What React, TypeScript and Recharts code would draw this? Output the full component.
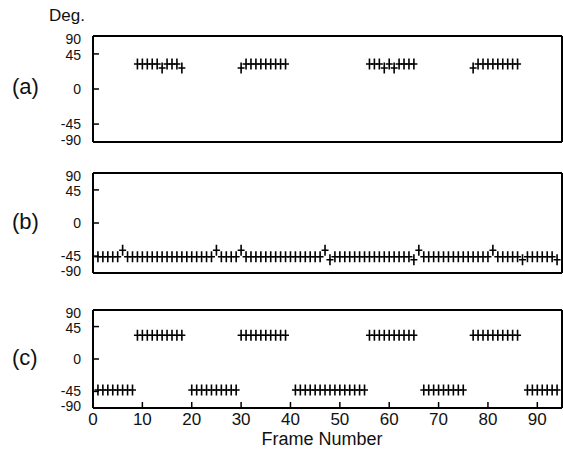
import React from "react";
import { ScatterChart, Scatter, XAxis, YAxis } from "recharts";

// frame numbers / angles (deg)
const xTicks = [0, 10, 20, 30, 40, 50, 60, 70, 80, 90];
const yTickValues = [-68, -45, 0, 45, 68];
const yTickLabels = ["-90", "-45", "0", "45", "90"];
const innerYTicks = [-45, 0, 45];

const aFrames = [
  9, 10, 11, 12, 13, 14, 15, 16, 17, 18,
  30, 31, 32, 33, 34, 35, 36, 37, 38, 39,
  56, 57, 58, 59, 60, 61, 62, 63, 64, 65,
  77, 78, 79, 80, 81, 82, 83, 84, 85, 86,
];
const aAngles = [
  32, 32, 32, 32, 32, 27, 32, 32, 32, 27,
  27, 32, 32, 32, 32, 32, 32, 32, 32, 32,
  32, 32, 32, 27, 32, 27, 32, 32, 32, 32,
  27, 32, 32, 32, 32, 32, 32, 32, 32, 32,
];

const bStartFrame = 1;
const bAngles = [
  -46, -46, -46, -46, -46, -37, -46, -46, -46, -46,
  -46, -46, -46, -46, -46, -46, -46, -46, -46, -46,
  -46, -46, -46, -46, -37, -46, -46, -46, -46, -37,
  -46, -46, -46, -46, -46, -46, -46, -46, -46, -46,
  -46, -46, -46, -46, -46, -46, -37, -50, -46, -46,
  -46, -46, -46, -46, -46, -46, -46, -46, -46, -46,
  -46, -46, -46, -46, -50, -37, -46, -46, -46, -46,
  -46, -46, -46, -46, -46, -46, -46, -46, -46, -46,
  -37, -46, -46, -46, -46, -46, -50, -46, -46, -46,
  -46, -46, -46, -50,
];

const cFrames = [
  1, 2, 3, 4, 5, 6, 7, 8,
  9, 10, 11, 12, 13, 14, 15, 16, 17, 18,
  20, 21, 22, 23, 24, 25, 26, 27, 28, 29,
  30, 31, 32, 33, 34, 35, 36, 37, 38, 39,
  41, 42, 43, 44, 45, 46, 47, 48, 49, 50, 51, 52, 53, 54, 55,
  56, 57, 58, 59, 60, 61, 62, 63, 64, 65,
  67, 68, 69, 70, 71, 72, 73, 74, 75,
  77, 78, 79, 80, 81, 82, 83, 84, 85, 86,
  88, 89, 90, 91, 92, 93, 94,
];
const cAngles = [
  -43, -43, -43, -43, -43, -43, -43, -43,
  33, 33, 33, 33, 33, 33, 33, 33, 33, 33,
  -43, -43, -43, -43, -43, -43, -43, -43, -43, -43,
  33, 33, 33, 33, 33, 33, 33, 33, 33, 33,
  -43, -43, -43, -43, -43, -43, -43, -43, -43, -43, -43, -43, -43, -43, -43,
  33, 33, 33, 33, 33, 33, 33, 33, 33, 33,
  -43, -43, -43, -43, -43, -43, -43, -43, -43,
  33, 33, 33, 33, 33, 33, 33, 33, 33, 33,
  -43, -43, -43, -43, -43, -43, -43,
];

const dataA = aFrames.map((f, i) => ({ frame: f, angle: aAngles[i] }));
const dataB = bAngles.map((a, i) => ({ frame: bStartFrame + i, angle: a }));
const dataC = cFrames.map((f, i) => ({ frame: f, angle: cAngles[i] }));

const FONT = "'Liberation Sans', Arial, Helvetica, sans-serif";
const INK = "#111";

const Cross = (props: any) => {
  const { cx, cy } = props;
  if (cx == null || cy == null) return null;
  return (
    <path
      d={`M${cx - 3.5},${cy}H${cx + 3.5}M${cx},${cy - 5.5}V${cy + 5.5}`}
      stroke="#000"
      strokeWidth={1.6}
      fill="none"
    />
  );
};

const Nothing = () => null;

// labels squeezed like the scan: 90/-90 sit just inside the frame
const labelShift: Record<string, number> = { "90": 2.5, "45": 1, "0": 0, "-45": 0, "-90": -2 };

const YTick = (props: any) => {
  const { x, y, payload } = props;
  const label = yTickLabels[yTickValues.indexOf(payload.value)];
  return (
    <text
      x={x}
      y={y + labelShift[label]}
      dy="0.36em"
      textAnchor="end"
      fontSize={14}
      fill={INK}
      fontFamily={FONT}
    >
      {label}
    </text>
  );
};

const axisLine = { stroke: "#000", strokeWidth: 2 };
const tickLine = { stroke: "#000", strokeWidth: 1.5 };

interface PanelProps {
  data: { frame: number; angle: number }[];
  top: number;
  height: number;
  plotTop: number;
  plotBottom: number;
  showX?: boolean;
}

const Panel = ({ data, top, height, plotTop, plotBottom, showX }: PanelProps) => (
  <div style={{ position: "absolute", left: 0, top, width: 563, height }}>
    <ScatterChart
      width={563}
      height={height}
      margin={{ top: plotTop - top - 1, right: 0, bottom: 0, left: 0 }}
    >
      <XAxis
        xAxisId="b"
        type="number"
        dataKey="frame"
        domain={[0, 95]}
        allowDataOverflow
        ticks={xTicks}
        orientation="bottom"
        height={height - (plotBottom - top)}
        tickSize={-6}
        tickMargin={11}
        axisLine={axisLine}
        tickLine={tickLine}
        tick={showX ? { fontSize: 17, fill: INK, fontFamily: FONT } : false}
        interval={0}
      />
      <XAxis
        xAxisId="t"
        type="number"
        dataKey="frame"
        domain={[0, 95]}
        allowDataOverflow
        ticks={xTicks}
        orientation="top"
        height={1}
        tickSize={-6}
        axisLine={axisLine}
        tickLine={tickLine}
        tick={false}
        interval={0}
      />
      <YAxis
        yAxisId="l"
        type="number"
        dataKey="angle"
        domain={[-68, 68]}
        allowDataOverflow
        ticks={yTickValues}
        width={93}
        tickSize={-6}
        tickMargin={18}
        axisLine={axisLine}
        tickLine={tickLine}
        tick={<YTick />}
        interval={0}
      />
      <YAxis
        yAxisId="r"
        orientation="right"
        type="number"
        dataKey="angle"
        domain={[-68, 68]}
        allowDataOverflow
        ticks={innerYTicks}
        width={1}
        tickSize={-6}
        axisLine={axisLine}
        tickLine={tickLine}
        tick={false}
        interval={0}
      />
      <Scatter
        data={data}
        xAxisId="t"
        yAxisId="r"
        dataKey="angle"
        shape={<Nothing />}
        isAnimationActive={false}
      />
      <Scatter
        data={data}
        xAxisId="b"
        yAxisId="l"
        dataKey="angle"
        shape={<Cross />}
        isAnimationActive={false}
      />
    </ScatterChart>
  </div>
);

export default function App() {
  return (
    <div
      style={{
        position: "absolute",
        left: 0,
        top: 0,
        width: 563,
        height: 466,
        background: "#fff",
      }}
    >
      <Panel data={dataA} top={0} height={150} plotTop={36} plotBottom={142} />
      <Panel data={dataB} top={150} height={130} plotTop={173} plotBottom={273} />
      <Panel data={dataC} top={280} height={186} plotTop={310} plotBottom={408} showX />
      <svg
        width={563}
        height={466}
        style={{ position: "absolute", left: 0, top: 0, pointerEvents: "none" }}
        fontFamily={FONT}
        fill={INK}
      >
        <text x={49} y={21} fontSize={17}>Deg.</text>
        <text x={12} y={94} fontSize={22}>(a)</text>
        <text x={12} y={229} fontSize={22}>(b)</text>
        <text x={12} y={365} fontSize={22}>(c)</text>
        <text x={322} y={445} fontSize={18} textAnchor="middle">Frame Number</text>
      </svg>
    </div>
  );
}
